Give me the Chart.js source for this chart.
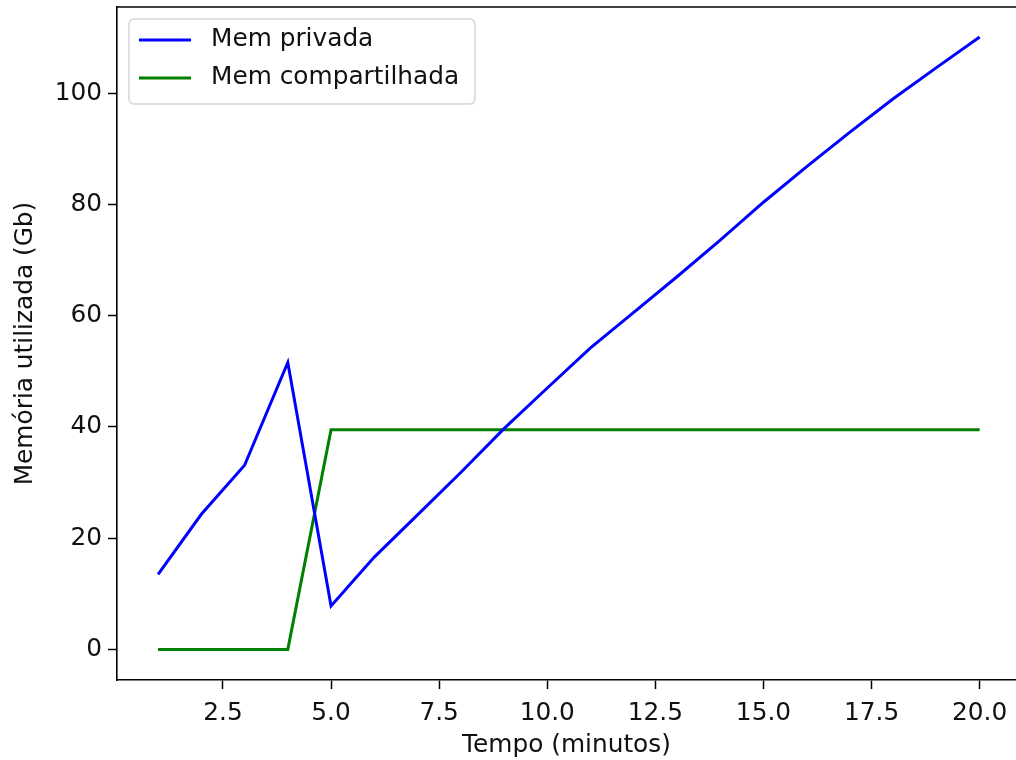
<!DOCTYPE html>
<html>
<head>
<meta charset="utf-8">
<script src="https://cdn.jsdelivr.net/npm/chart.js@4.4.0/dist/chart.umd.min.js"></script>
<style>
    html, body { margin: 0; padding: 0; background: #fff; overflow: hidden; }
    canvas { display: block; }
</style>
</head>
<body>
<canvas id="memChart" width="1016" height="760"></canvas>
<script>
// data
const minutes = [1, 2, 3, 4, 5, 6, 7, 8, 9, 10, 11, 12, 13, 14, 15, 16, 17, 18, 19, 20];
const memPrivada = [13.5, 24.3, 33.1, 51.6, 7.8, 16.6, 24.2, 31.8, 39.7, 47, 54.2, 60.6, 67, 73.6, 80.4, 86.8, 93, 99, 104.6, 110.1];
const memCompartilhada = [0, 0, 0, 0, 39.5, 39.5, 39.5, 39.5, 39.5, 39.5, 39.5, 39.5, 39.5, 39.5, 39.5, 39.5, 39.5, 39.5, 39.5, 39.5];
const xTicks = [2.5, 5, 7.5, 10, 12.5, 15, 17.5, 20];
const yTicks = [0, 20, 40, 60, 80, 100];

const FONT = 'DejaVu Sans';
const FS = 24.8;

function toPoints(ys) { return minutes.map((m, i) => ({ x: m, y: ys[i] })); }

// top spine (the right spine falls just outside the picture in the original)
const framePlugin = {
    id: 'frame',
    afterDraw(chart) {
        const { ctx, chartArea: a } = chart;
        ctx.save();
        ctx.strokeStyle = '#000';
        ctx.lineWidth = 1.6;
        ctx.beginPath();
        ctx.moveTo(a.left, a.top);
        ctx.lineTo(a.right + 2, a.top);
        ctx.stroke();
        ctx.restore();
    }
};

// legend inside the axes, upper left
const legendPlugin = {
    id: 'innerLegend',
    afterDraw(chart) {
        const { ctx, chartArea: a } = chart;
        const x0 = a.left + 12, y0 = a.top + 12, w = 346, h = 85;
        ctx.save();
        ctx.fillStyle = 'rgba(255,255,255,0.8)';
        ctx.strokeStyle = '#d6d6d6';
        ctx.lineWidth = 1.5;
        ctx.beginPath();
        ctx.roundRect(x0, y0, w, h, 5);
        ctx.fill();
        ctx.stroke();
        ctx.font = FS + 'px "' + FONT + '"';
        ctx.textBaseline = 'middle';
        chart.data.datasets.forEach((ds, i) => {
            const cy = y0 + 21 + i * 38;
            ctx.strokeStyle = ds.borderColor;
            ctx.lineWidth = 3;
            ctx.beginPath();
            ctx.moveTo(x0 + 10, cy);
            ctx.lineTo(x0 + 62, cy);
            ctx.stroke();
            ctx.fillStyle = '#111';
            ctx.fillText(ds.label, x0 + 82, cy);
        });
        ctx.restore();
    }
};

new Chart(document.getElementById('memChart'), {
    type: 'line',
    data: {
        datasets: [
            { label: 'Mem privada', data: toPoints(memPrivada), borderColor: '#0000ff', borderWidth: 3, pointRadius: 0, tension: 0 },
            { label: 'Mem compartilhada', data: toPoints(memCompartilhada), borderColor: '#008000', borderWidth: 3, pointRadius: 0, tension: 0 }
        ]
    },
    options: {
        responsive: false,
        animation: false,
        devicePixelRatio: 1,
        layout: { padding: { top: 7, right: 0, left: 0, bottom: 0 } },
        plugins: { legend: { display: false }, tooltip: { enabled: false } },
        scales: {
            x: {
                type: 'linear',
                min: 0.05,
                max: 20.84,
                afterBuildTicks: s => { s.ticks = xTicks.map(v => ({ value: v })); },
                afterFit: s => { s.height = 80; s.paddingLeft = 0; s.paddingRight = 0; },
                ticks: { callback: v => v.toFixed(1), font: { family: FONT, size: FS }, color: '#111', padding: 10, maxRotation: 0, autoSkip: false },
                grid: { drawOnChartArea: false, tickLength: 9, tickWidth: 1.5, tickColor: '#000' },
                border: { color: '#000', width: 1.6 },
                title: { display: true, text: 'Tempo (minutos)', font: { family: FONT, size: FS }, color: '#111', padding: { top: 0, bottom: 0 } }
            },
            y: {
                min: -5.5,
                max: 115.5,
                afterBuildTicks: s => { s.ticks = yTicks.map(v => ({ value: v })); },
                afterFit: s => { s.width = 117; s.paddingTop = 0; s.paddingBottom = 0; },
                ticks: { font: { family: FONT, size: FS }, color: '#111', padding: 6, autoSkip: false },
                grid: { drawOnChartArea: false, tickLength: 9, tickWidth: 1.5, tickColor: '#000' },
                border: { color: '#000', width: 1.6 },
                title: { display: true, text: 'Memória utilizada (Gb)', font: { family: FONT, size: FS }, color: '#111', padding: { top: 11, bottom: 0 } }
            }
        }
    },
    plugins: [framePlugin, legendPlugin]
});
</script>
</body>
</html>
